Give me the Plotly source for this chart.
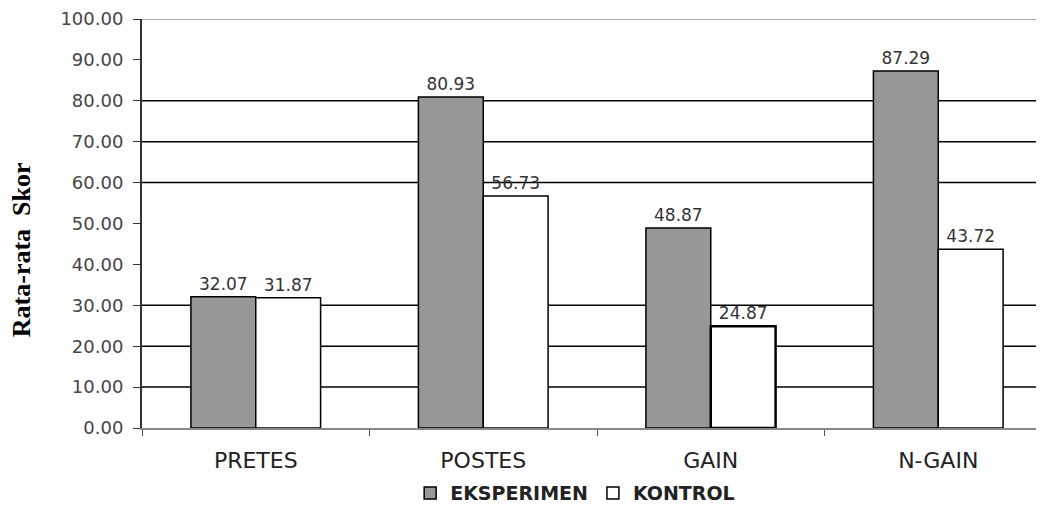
import plotly.graph_objects as go

categories = ["PRETES", "POSTES", "GAIN", "N-GAIN"]
eksperimen = [32.07, 80.93, 48.87, 87.29]
kontrol = [31.87, 56.73, 24.87, 43.72]
y_ticks = [0, 10, 20, 30, 40, 50, 60, 70, 80, 90, 100]
grid_lines = [10, 20, 30, 60, 70, 80]

FONT = "DejaVu Sans"

fig = go.Figure()
fig.add_trace(go.Bar(
    name="EKSPERIMEN", x=categories, y=eksperimen,
    marker=dict(color="#979797", line=dict(color="black", width=1.5)),
    text=[f"{v:.2f}" for v in eksperimen], textposition="outside",
    textfont=dict(family=FONT, size=17, color="#333333"), cliponaxis=False,
))
fig.add_trace(go.Bar(
    name="KONTROL", x=categories, y=kontrol,
    marker=dict(color="white", line=dict(color="black", width=[1.5, 1.5, 2.5, 1.5])),
    text=[f"{v:.2f}" for v in kontrol], textposition="outside",
    textfont=dict(family=FONT, size=17, color="#333333"), cliponaxis=False,
))

for g in grid_lines:
    fig.add_shape(type="line", xref="paper", yref="y", x0=0, x1=1, y0=g, y1=g,
                  line=dict(color="black", width=1.5), layer="below")
fig.add_shape(type="line", xref="paper", yref="y", x0=0, x1=1, y0=100, y1=100,
              line=dict(color="#888888", width=1.5), layer="below")

fig.add_annotation(text="<b>Rata-rata  Skor</b>", xref="paper", yref="paper",
                   x=-0.151, y=0.435, textangle=-90, showarrow=False,
                   font=dict(family="Liberation Serif", size=26, color="black"))

fig.update_layout(
    width=1044, height=506,
    margin=dict(l=134, r=0, t=11, b=86),
    paper_bgcolor="white", plot_bgcolor="white",
    barmode="group", bargap=0.43, bargroupgap=0,
    showlegend=True,
    legend=dict(orientation="h", x=0.476, xanchor="center", y=-0.159, yanchor="middle",
                font=dict(family=FONT, size=19, color="#222222", weight="bold"),
                itemwidth=30, tracegroupgap=0, traceorder="normal"),
    xaxis=dict(range=[-0.5, 3.5], showgrid=False, showline=True, linecolor="#888888",
               linewidth=1.5, automargin=False, ticklabelstandoff=12,
               tickfont=dict(family=FONT, size=22, color="#222222")),
    yaxis=dict(range=[0, 100], tickvals=y_ticks, ticktext=[f"{v:.2f}" for v in y_ticks],
               showgrid=False, showline=True, linecolor="#333333", linewidth=2,
               ticks="outside", ticklen=7, tickcolor="#333333", zeroline=False,
               automargin=False, ticklabelstandoff=6,
               tickfont=dict(family=FONT, size=18, color="#444444")),
)
fig.update_xaxes(ticks="outside", tickcolor="#555555", ticklen=6, tickson="boundaries")

fig.write_html("out.html")
